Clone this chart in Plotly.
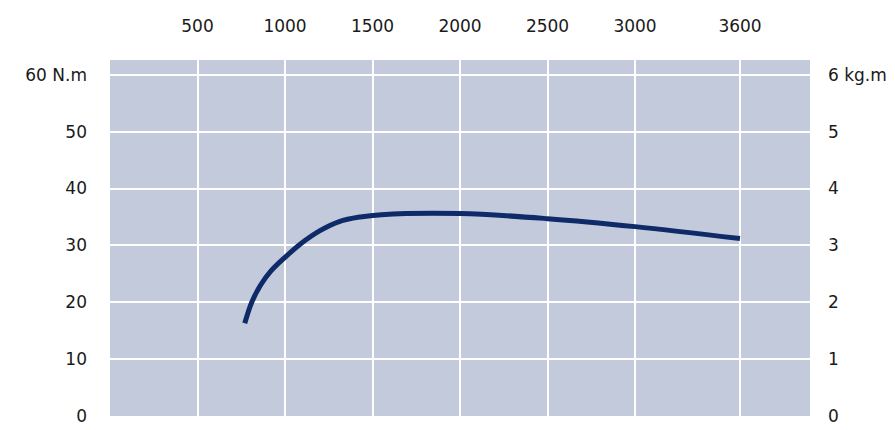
import plotly.graph_objects as go

# Engine speed (rpm) and torque (N.m)
rpm = [770, 810, 860, 920, 1000, 1090, 1200, 1310, 1430, 1550, 2000, 2500, 3000, 3600]
torque_nm = [16.3, 20.0, 23.0, 25.5, 27.9, 30.3, 32.6, 34.2, 35.0, 35.4, 35.6, 34.7, 33.3, 31.2]

x_ticks = [500, 1000, 1500, 2000, 2500, 3000, 3600]
x_ticktext = ["500", "1000", "1500", "2000", "2500", "3000", "3600"]
y_left_ticks = [0, 10, 20, 30, 40, 50, 60]
y_left_text = ["0", "10", "20", "30", "40", "50", "60 N.m"]
y_right_ticks = [0, 1, 2, 3, 4, 5, 6]
y_right_text = ["0", "1", "2", "3", "4", "5", "6 kg.m"]

font = dict(family="DejaVu Sans, Liberation Sans, Arial", size=17, color="#1a1a1a")

fig = go.Figure()
fig.add_trace(go.Scatter(
    x=rpm, y=torque_nm, mode="lines",
    line=dict(color="#0f2a68", width=5, shape="spline", smoothing=1.0),
    hoverinfo="skip", showlegend=False,
))
fig.add_trace(go.Scatter(
    x=[None], y=[None], yaxis="y2", mode="lines", showlegend=False, hoverinfo="skip",
))

# The page body adds an 8px offset, so the figure is sized 8px smaller.
fig.update_layout(
    width=887, height=422,
    margin=dict(l=102, r=85, t=52, b=14),
    paper_bgcolor="white",
    plot_bgcolor="#c3cadb",
    font=font,
    showlegend=False,
    xaxis=dict(
        side="top", range=[0, 4000], tickmode="array",
        tickvals=x_ticks, ticktext=x_ticktext,
        showgrid=True, gridcolor="white", gridwidth=1.6,
        zeroline=False, showline=False, ticks="",
        ticklabelstandoff=24, tickfont=font, automargin=False,
    ),
    yaxis=dict(
        range=[0, 62.6], tickmode="array",
        tickvals=y_left_ticks, ticktext=y_left_text,
        showgrid=True, gridcolor="white", gridwidth=1.6,
        zeroline=False, showline=False, ticks="",
        ticklabelstandoff=22, tickfont=font, automargin=False,
    ),
    yaxis2=dict(
        overlaying="y", side="right", range=[0, 6.26], tickmode="array",
        tickvals=y_right_ticks, ticktext=y_right_text,
        showgrid=False, zeroline=False, showline=False, ticks="",
        ticklabelstandoff=17, tickfont=font, automargin=False,
    ),
)

fig.write_html("out.html")
